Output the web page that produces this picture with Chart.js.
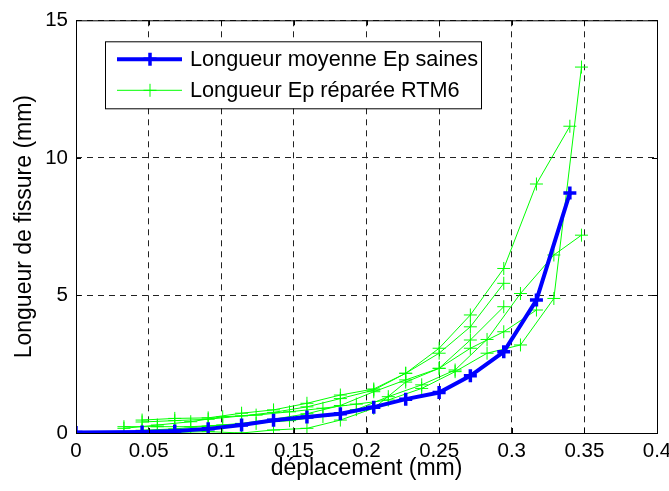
<!DOCTYPE html>
<html>
<head>
<meta charset="utf-8">
<script src="https://cdn.jsdelivr.net/npm/chart.js@4.4.1/dist/chart.umd.min.js"></script>
<style>
  html, body { margin: 0; padding: 0; background: #fff; }
  #wrap { width: 669px; height: 491px; position: relative; }
</style>
</head>
<body>
<div id="wrap"><canvas id="chart"></canvas></div>
<script>
const X_TICKS = [0, 0.05, 0.1, 0.15, 0.2, 0.25, 0.3, 0.35, 0.4];
const Y_TICKS = [0, 5, 10, 15];

const LABEL_MEAN = 'Longueur moyenne Ep saines';
const LABEL_RTM6 = 'Longueur Ep réparée RTM6';

// mean curve (healthy specimens)
const xMean = [0, 0.0455, 0.068, 0.091, 0.114, 0.136, 0.159, 0.182, 0.205, 0.227, 0.25, 0.2715, 0.2945, 0.317, 0.34];
const yMean = [0.02, 0.04, 0.07, 0.15, 0.29, 0.46, 0.58, 0.70, 0.94, 1.23, 1.47, 2.08, 2.95, 4.83, 8.72];

// repaired specimens, two sampling grids
const xGridA = [0.0455, 0.068, 0.091, 0.114, 0.136, 0.159, 0.182, 0.205, 0.227, 0.25, 0.2715, 0.2945, 0.317, 0.34];
const xGridB = [0.033, 0.056, 0.079, 0.101, 0.124, 0.147, 0.170, 0.193, 0.215, 0.238, 0.261, 0.283, 0.306, 0.329, 0.348];

const yRep1 = [0.47, 0.53, 0.55, 0.72, 0.84, 1.08, 1.38, 1.60, 2.17, 3.08, 4.29, 5.98, 9.05, 11.15];
const yRep2 = [0.40, 0.45, 0.50, 0.62, 0.75, 0.95, 1.25, 1.56, 2.17, 2.90, 3.86, 5.44];
const yRep3 = [0.10, 0.15, 0.25, 0.35, 0.50, 0.70, 1.00, 1.50, 1.93, 2.35, 3.08, 3.68, 4.47];
const yRep4 = [0.00, 0.02, 0.05, 0.00, 0.11, 0.17, 0.47, 0.90, 1.85, 2.35, 3.38, 4.59];
const yRep5 = [0.17, 0.29, 0.41, 0.59, 0.65, 0.77, 0.90, 1.05, 1.20, 1.62, 2.23, 2.90, 3.20, 4.89, 13.3];
const yRep6 = [0.23, 0.23, 0.23, 0.29, 0.35, 0.45, 0.60, 0.85, 1.32, 1.75, 2.29, 3.40, 5.07, 6.47, 7.19];

const BLUE = '#0000ff';
const GREEN = '#00ff00';
const FONT = "'Liberation Sans', Arial, sans-serif";

function pts(xs, ys) {
  return ys.map((y, i) => ({ x: xs[i], y }));
}

function meanSet() {
  return {
    label: LABEL_MEAN,
    data: pts(xMean, yMean),
    borderColor: BLUE,
    backgroundColor: BLUE,
    borderWidth: 4,
    pointStyle: 'cross',
    pointRadius: 6.5,
    pointBorderWidth: 3.5,
    pointBorderColor: BLUE,
    tension: 0,
    inLegend: true,
  };
}

function repSet(xs, ys, first) {
  return {
    label: LABEL_RTM6,
    data: pts(xs, ys),
    borderColor: GREEN,
    backgroundColor: GREEN,
    borderWidth: 1,
    pointStyle: 'cross',
    pointRadius: 6.5,
    pointBorderWidth: 1,
    pointBorderColor: GREEN,
    tension: 0,
    inLegend: first,
  };
}

const datasets = [
  meanSet(),
  repSet(xGridA, yRep1, true),
  repSet(xGridA, yRep2, false),
  repSet(xGridA, yRep3, false),
  repSet(xGridA, yRep4, false),
  repSet(xGridB, yRep5, false),
  repSet(xGridB, yRep6, false),
];

// axes box, inward ticks, legend box
const matlabFrame = {
  id: 'matlabFrame',
  afterDatasetsDraw(chart) {
    const { ctx, chartArea: a, scales } = chart;
    ctx.save();
    ctx.setLineDash([]);
    ctx.strokeStyle = '#000';
    ctx.lineWidth = 1;
    ctx.strokeRect(a.left + 0.5, a.top + 0.5, a.right - a.left, a.bottom - a.top);
    ctx.beginPath();
    X_TICKS.forEach((v) => {
      const px = Math.round(scales.x.getPixelForValue(v)) + 0.5;
      ctx.moveTo(px, a.bottom); ctx.lineTo(px, a.bottom - 5);
      ctx.moveTo(px, a.top); ctx.lineTo(px, a.top + 5);
    });
    Y_TICKS.forEach((v) => {
      const py = Math.round(scales.y.getPixelForValue(v)) + 0.5;
      ctx.moveTo(a.left, py); ctx.lineTo(a.left + 5, py);
      ctx.moveTo(a.right, py); ctx.lineTo(a.right - 5, py);
    });
    ctx.stroke();

    // legend
    const bx = a.left + 29, by = a.top + 21, bw = 376, bh = 67;
    ctx.fillStyle = '#fff';
    ctx.fillRect(bx, by, bw, bh);
    ctx.strokeRect(bx + 0.5, by + 0.5, bw, bh);
    const rows = chart.data.datasets.filter((d) => d.inLegend);
    rows.forEach((d, i) => {
      const y = by + 18 + i * 31;
      ctx.strokeStyle = d.borderColor;
      ctx.lineWidth = d.borderWidth;
      ctx.beginPath();
      ctx.moveTo(bx + 12, y); ctx.lineTo(bx + 77, y);
      ctx.stroke();
      ctx.lineWidth = d.pointBorderWidth;
      Chart.helpers.drawPoint(ctx, {
        pointStyle: d.pointStyle, radius: d.pointRadius, borderWidth: d.pointBorderWidth, rotation: 0,
      }, bx + 45, y);
      ctx.fillStyle = '#000';
      ctx.font = `21.7px ${FONT}`;
      ctx.textBaseline = 'middle';
      ctx.fillText(d.label, bx + 85, y + 1);
    });
    ctx.restore();
  },
};

new Chart(document.getElementById('chart'), {
  type: 'line',
  data: { datasets },
  options: {
    responsive: true,
    maintainAspectRatio: false,
    animation: false,
    layout: { padding: { top: 20, right: 12, left: 0, bottom: 0 } },
    plugins: { legend: { display: false }, tooltip: { enabled: false } },
    scales: {
      x: {
        type: 'linear',
        min: 0,
        max: 0.4,
        afterBuildTicks(s) { s.ticks = X_TICKS.map((value) => ({ value })); },
        afterFit(s) { s.height = 58; s.paddingLeft = 0; s.paddingRight = 0; },
        ticks: {
          color: '#000',
          font: { family: FONT, size: 20.5 },
          padding: 6,
          maxRotation: 0,
          autoSkip: false,
          callback: (v) => String(Number(Number(v).toFixed(2))),
        },
        grid: { color: '#222', lineWidth: 1, drawTicks: false },
        border: { display: false, dash: [6, 5] },
        title: {
          display: true,
          text: 'déplacement (mm)',
          color: '#000',
          font: { family: FONT, size: 23 },
          padding: { top: 0, bottom: 9 },
        },
      },
      y: {
        type: 'linear',
        min: 0,
        max: 15,
        afterBuildTicks(s) { s.ticks = Y_TICKS.map((value) => ({ value })); },
        afterFit(s) { s.width = 76; },
        ticks: {
          color: '#000',
          font: { family: FONT, size: 20.5 },
          padding: 8,
          autoSkip: false,
        },
        grid: { color: '#222', lineWidth: 1, drawTicks: false },
        border: { display: false, dash: [6, 5] },
        title: {
          display: true,
          text: 'Longueur de fissure (mm)',
          color: '#000',
          font: { family: FONT, size: 23 },
          padding: { top: 11, bottom: 0 },
        },
      },
    },
  },
  plugins: [matlabFrame],
});
</script>
</body>
</html>
